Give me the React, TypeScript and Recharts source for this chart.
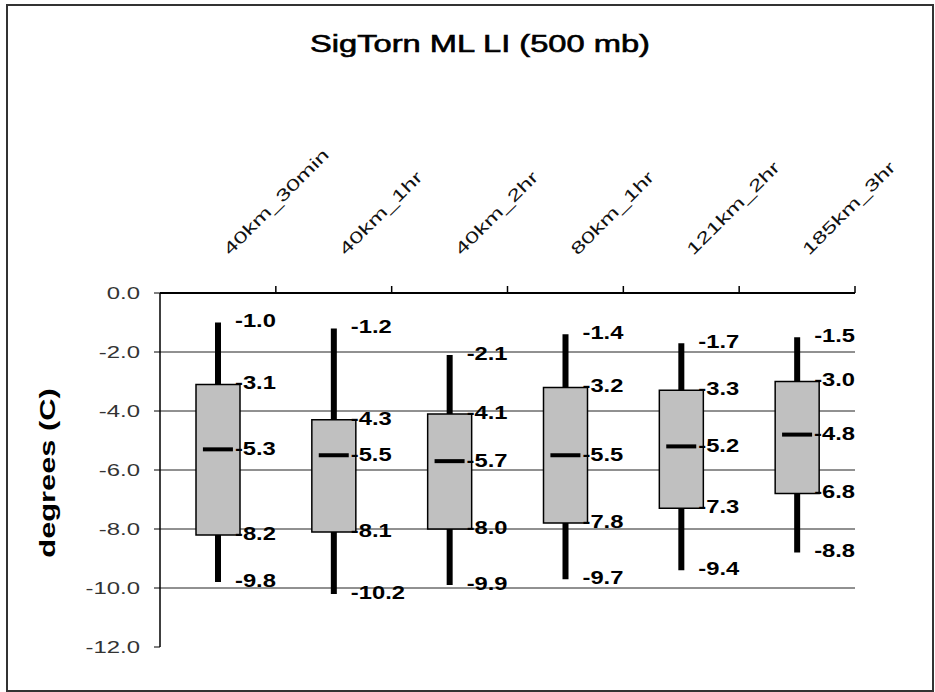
import { Bar, CartesianGrid, ComposedChart, LabelList, Scatter, XAxis, YAxis } from "recharts"

const categories = ["40km_30min", "40km_1hr", "40km_2hr", "80km_1hr", "121km_2hr", "185km_3hr"]
const maxValues = [-1.0, -1.2, -2.1, -1.4, -1.7, -1.5]
const upperQuartiles = [-3.1, -4.3, -4.1, -3.2, -3.3, -3.0]
const medians = [-5.3, -5.5, -5.7, -5.5, -5.2, -4.8]
const lowerQuartiles = [-8.2, -8.1, -8.0, -7.8, -7.3, -6.8]
const minValues = [-9.8, -10.2, -9.9, -9.7, -9.4, -8.8]
const yTicks = [0, -2, -4, -6, -8, -10, -12]
const gridValues = [-2, -4, -6, -8, -10]

const data = categories.map((name, i) => ({
  name,
  whisker: [minValues[i], maxValues[i]],
  box: [lowerQuartiles[i], upperQuartiles[i]],
  median: medians[i],
}))

const FONT = "Arial, 'Liberation Sans', sans-serif"

// text drawn a little wider than the font, like the old spreadsheet export
function WideText({ x, y, sx = 1, size, weight = "normal", anchor = "start", fill = "#000", rotate = 0, dy = "0", heavy = 0, children }: any) {
  return (
    <g transform={`translate(${x},${y}) rotate(${rotate}) scale(${sx},1)`}>
      <text
        x={0}
        y={0}
        dy={dy}
        fontFamily={FONT}
        fontSize={size}
        fontWeight={weight}
        textAnchor={anchor}
        fill={fill}
        stroke={heavy ? fill : "none"}
        strokeWidth={heavy}
      >
        {children}
      </text>
    </g>
  )
}

function ValueLabel({ x, y, value }: { x: number; y: number; value: number }) {
  return (
    <WideText x={x} y={y} sx={1.25} size={19} weight="bold" dy="0.36em">
      {value.toFixed(1)}
    </WideText>
  )
}

// labels at both ends of a range bar
const rangeLabels = (upper: number[], lower: number[]) => (props: any) => {
  const vb = props.viewBox ?? props
  const { x, y, width, height } = vb
  const i = props.index
  const top = Math.min(y, y + height)
  const bottom = Math.max(y, y + height)
  const left = x + width / 2 + 17
  return (
    <g>
      <ValueLabel x={left} y={top - 2} value={upper[i]} />
      <ValueLabel x={left} y={bottom - 2} value={lower[i]} />
    </g>
  )
}

const MedianMark = (props: any) => {
  const { cx, cy, payload } = props
  return (
    <g>
      <rect x={cx - 15} y={cy - 2} width={30} height={4} fill="#000" />
      <ValueLabel x={cx + 17} y={cy - 1} value={payload.median} />
    </g>
  )
}

const CategoryTick = (props: any) => {
  const { x, y, payload } = props
  const half = payload.offset ?? 0
  const axisY = y + 22
  return (
    <g>
      <line x1={x + half} x2={x + half} y1={axisY} y2={axisY - 7} stroke="#000" strokeWidth={1.5} />
      <WideText x={x + 12} y={y - 15} rotate={-45} sx={1.5} size={16.5} fill="#111">
        {payload.value}
      </WideText>
    </g>
  )
}

const DegreeTick = (props: any) => {
  const { x, y, payload } = props
  return (
    <WideText x={x} y={y} sx={1.45} size={16.5} anchor="end" fill="#333" dy="0.36em">
      {Number(payload.value).toFixed(1)}
    </WideText>
  )
}

export default function App() {
  return (
    <div style={{ position: "relative", width: 935, height: 692, background: "#fff" }}>
      <style>{"body{margin:0}"}</style>
      <ComposedChart width={935} height={692} data={data} margin={{ top: 133, right: 80, bottom: 45, left: 0 }}>
        <CartesianGrid vertical={false} stroke="#222" horizontalValues={gridValues} />
        <XAxis
          dataKey="name"
          orientation="top"
          height={160}
          interval={0}
          axisLine={{ stroke: "#000", strokeWidth: 2 }}
          tickLine={false}
          tickSize={7}
          tickMargin={15}
          tick={CategoryTick}
        />
        <XAxis
          xAxisId="w"
          dataKey="name"
          orientation="bottom"
          height={0}
          tick={false}
          tickLine={false}
          axisLine={{ stroke: "#888", strokeWidth: 1.5 }}
        />
        <YAxis
          domain={[-12, 0]}
          ticks={yTicks}
          interval={0}
          width={160}
          allowDataOverflow
          axisLine={{ stroke: "#000", strokeWidth: 1.5 }}
          tickLine={{ stroke: "#000" }}
          tickSize={6}
          tickMargin={14}
          tick={DegreeTick}
        />
        <YAxis
          yAxisId="r"
          orientation="right"
          domain={[-12, 0]}
          width={0}
          tick={false}
          tickLine={false}
          axisLine={{ stroke: "#888", strokeWidth: 1.5 }}
        />
        <Bar xAxisId="w" dataKey="whisker" barSize={6} fill="#000" isAnimationActive={false}>
          <LabelList dataKey="whisker" content={rangeLabels(maxValues, minValues)} />
        </Bar>
        <Bar dataKey="box" barSize={44} fill="#c0c0c0" stroke="#000" strokeWidth={1.5} isAnimationActive={false}>
          <LabelList dataKey="box" content={rangeLabels(upperQuartiles, lowerQuartiles)} />
        </Bar>
        <Scatter dataKey="median" shape={MedianMark} isAnimationActive={false} />
      </ComposedChart>
      <svg width={935} height={692} style={{ position: "absolute", left: 0, top: 0, pointerEvents: "none" }}>
        <rect x={7} y={5} width={926} height={686} fill="none" stroke="#333" strokeWidth={2} />
        <WideText x={480} y={52} sx={1.42} size={23} anchor="middle" heavy={0.6}>
          SigTorn ML LI (500 mb)
        </WideText>
        <WideText x={55} y={473} sx={1.4} size={22} weight="bold" anchor="middle" rotate={-90}>
          degrees (C)
        </WideText>
      </svg>
    </div>
  )
}
